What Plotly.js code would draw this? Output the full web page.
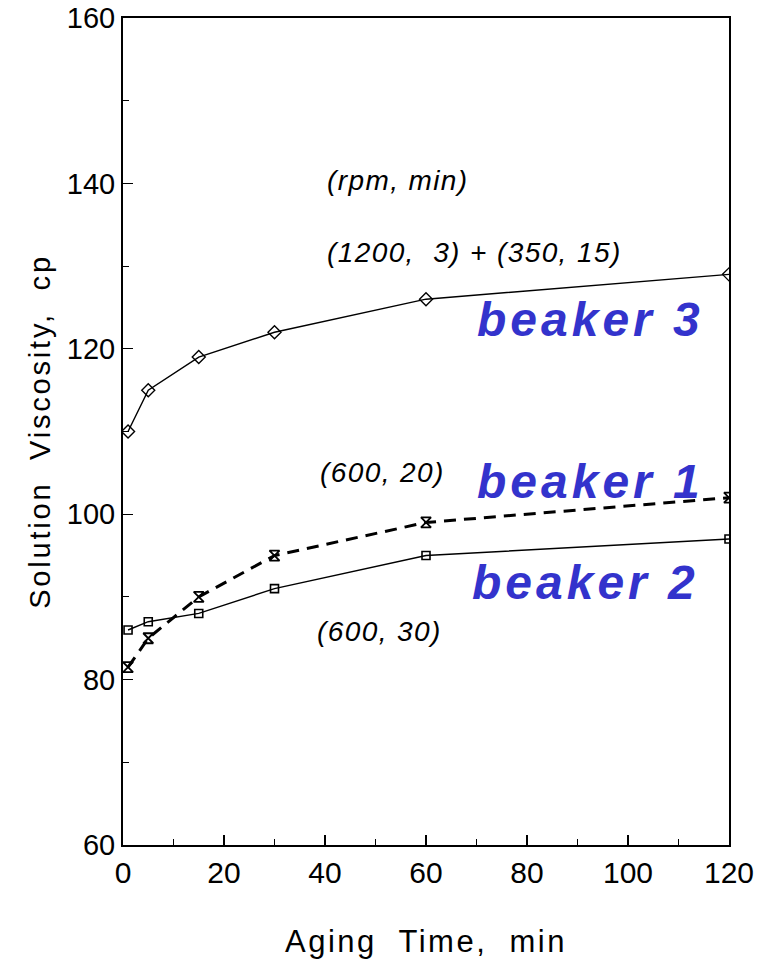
<!DOCTYPE html>
<html>
<head>
<meta charset="utf-8">
<script src="https://cdn.plot.ly/plotly-3.0.1.min.js"></script>
<style>html,body{margin:0;padding:0;background:#fff;}#chart{width:767px;height:963px;}</style>
</head>
<body>
<div id="chart"></div>
<script>
// Aging time (min)
const agingTime = [1, 5, 15, 30, 60, 120];
// Solution viscosity (cp)
const beaker1 = [81.5, 85, 90, 95, 99, 102];   // (600, 20)
const beaker2 = [86, 87, 88, 91, 95, 97];      // (600, 30)
const beaker3 = [110, 115, 119, 122, 126, 129]; // (1200, 3) + (350, 15)
const xTicks = [0, 20, 40, 60, 80, 100, 120];
const yTicks = [60, 80, 100, 120, 140, 160];

const font = "Liberation Sans, Arial, Helvetica, sans-serif";
const blue = "rgb(51,51,204)";

function spaced(t, px) { return '<span style="letter-spacing:' + px + 'px">' + t + '</span>'; }

const traces = [
  {x: agingTime, y: beaker3, mode: "lines+markers", type: "scatter",
   line: {color: "#000", width: 1.4},
   marker: {symbol: "diamond-open", size: 10, color: "#000", line: {width: 1.4, color: "#000"}}},
  {x: agingTime, y: beaker2, mode: "lines+markers", type: "scatter",
   line: {color: "#000", width: 1.4},
   marker: {symbol: "square-open", size: 8, color: "#000", line: {width: 1.6, color: "#000"}}},
  {x: agingTime, y: beaker1, mode: "lines+markers", type: "scatter",
   line: {color: "#000", width: 3, dash: "12px,8px"},
   marker: {symbol: "hourglass-open", size: 10, color: "#000", line: {width: 1.8, color: "#000"}}}
];

const annFont = {size: 28, family: font, color: "#000"};
const bkFont = {size: 48, family: font, color: blue};

const layout = {
  width: 767, height: 963,
  margin: {l: 123, r: 38, t: 18, b: 118},
  paper_bgcolor: "#fff", plot_bgcolor: "#fff",
  showlegend: false,
  font: {family: font, color: "#000"},
  xaxis: {
    range: [0, 120], tickvals: xTicks, ticktext: xTicks.map(String),
    ticks: "inside", ticklen: 10, tickwidth: 1.2, tickcolor: "#000",
    minor: {dtick: 10, ticks: "inside", ticklen: 6, tickwidth: 1, tickcolor: "#000"},
    showline: true, linecolor: "#000", linewidth: 2, mirror: true,
    showgrid: false, zeroline: false,
    tickfont: {size: 30, family: font, color: "#000"},
    title: {text: spaced("Aging  Time,  min", 2.5), font: {size: 31, family: font, color: "#000"}, standoff: 42}
  },
  yaxis: {
    range: [60, 160], tickvals: yTicks, ticktext: yTicks.map(String),
    ticks: "inside", ticklen: 10, tickwidth: 1.2, tickcolor: "#000",
    minor: {dtick: 10, ticks: "inside", ticklen: 6, tickwidth: 1, tickcolor: "#000"},
    showline: true, linecolor: "#000", linewidth: 2, mirror: true,
    showgrid: false, zeroline: false,
    tickfont: {size: 29, family: font, color: "#000"},
    title: {text: spaced("Solution  Viscosity,  cp", 2.8), font: {size: 29, family: font, color: "#000"}, standoff: 8}
  },
  annotations: [
    {x: 40, y: 140.4, text: "<i>" + spaced("(rpm, min)", 1.4) + "</i>", xanchor: "left", yanchor: "middle", showarrow: false, font: annFont},
    {x: 40, y: 131.6, text: "<i>" + spaced("(1200,  3) + (350, 15)", 1.4) + "</i>", xanchor: "left", yanchor: "middle", showarrow: false, font: annFont},
    {x: 38.6, y: 105.1, text: "<i>" + spaced("(600, 20)", 1.4) + "</i>", xanchor: "left", yanchor: "middle", showarrow: false, font: annFont},
    {x: 38, y: 85.8, text: "<i>" + spaced("(600, 30)", 1.4) + "</i>", xanchor: "left", yanchor: "middle", showarrow: false, font: annFont},
    {x: 69.7, y: 123.5, text: "<b><i>" + spaced("beaker 3", 4) + "</i></b>", xanchor: "left", yanchor: "middle", showarrow: false, font: bkFont},
    {x: 69.7, y: 103.9, text: "<b><i>" + spaced("beaker 1", 4) + "</i></b>", xanchor: "left", yanchor: "middle", showarrow: false, font: bkFont},
    {x: 68.7, y: 91.8, text: "<b><i>" + spaced("beaker 2", 4) + "</i></b>", xanchor: "left", yanchor: "middle", showarrow: false, font: bkFont}
  ]
};

Plotly.newPlot("chart", traces, layout, {staticPlot: true, displayModeBar: false});
</script>
</body>
</html>
